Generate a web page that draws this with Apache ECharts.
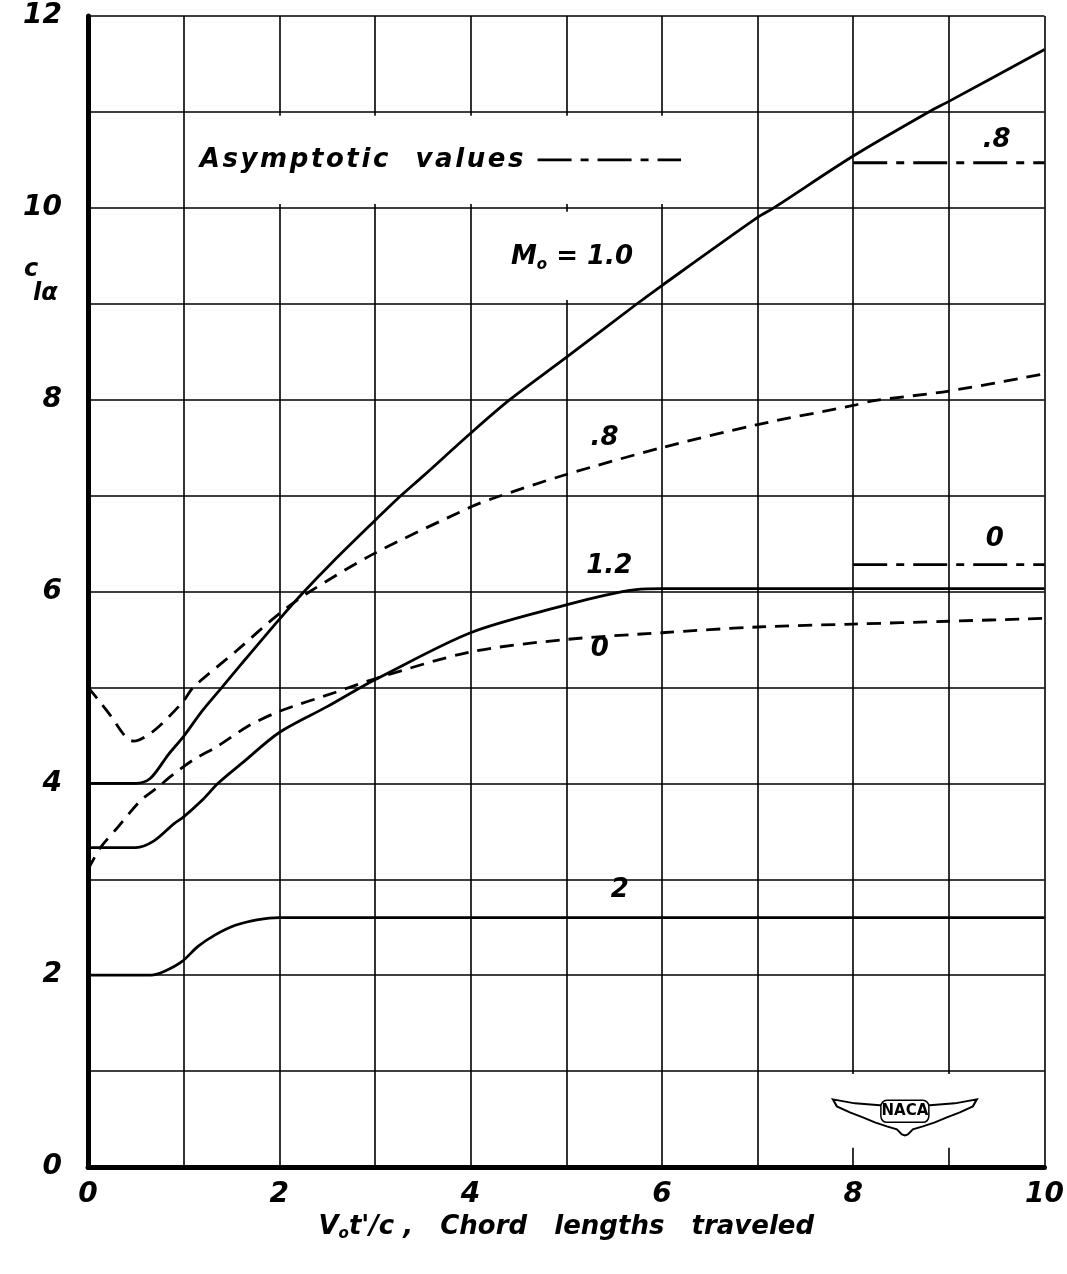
<!DOCTYPE html>
<html>
<head>
<meta charset="utf-8">
<script src="https://cdn.jsdelivr.net/npm/echarts@6/dist/echarts.min.js"></script>
<style>
  html, body { margin: 0; padding: 0; background: #fff; }
  #main { width: 1067px; height: 1274px; }
</style>
</head>
<body>
<div id="main"></div>
<script>
// values: c_l_alpha vs chord lengths traveled
var m10X = [0, 0.5, 0.65, 0.84, 1, 1.19, 1.4, 1.6, 2, 2.26, 2.56, 3, 3.25, 3.5, 4, 4.41, 5, 5.74, 6, 7, 7.17, 8, 8.79, 9, 10];
var m10Y = [4, 4, 4.05, 4.3, 4.49, 4.75, 5.0, 5.24, 5.71, 6.0, 6.31, 6.74, 6.98, 7.2, 7.65, 8.0, 8.44, 9.0, 9.19, 9.9, 10.0, 10.54, 11.0, 11.11, 11.65];

var m08X = [0, 0.1, 0.24, 0.35, 0.42, 0.48, 0.59, 0.75, 1, 1.1, 1.55, 2, 2.32, 3, 4, 4.23, 5, 6, 7, 8, 8.22, 9, 10];
var m08Y = [5.0, 4.88, 4.7, 4.54, 4.46, 4.44, 4.48, 4.6, 4.86, 5.0, 5.38, 5.77, 6.0, 6.4, 6.88, 6.97, 7.22, 7.5, 7.74, 7.94, 7.99, 8.09, 8.27];

var m12X = [0, 0.5, 0.69, 0.9, 1, 1.19, 1.36, 1.61, 2, 2.5, 2.85, 3, 4, 5, 5.4, 5.73, 6, 10];
var m12Y = [3.33, 3.33, 3.4, 3.58, 3.65, 3.82, 4.0, 4.21, 4.53, 4.8, 5.0, 5.08, 5.57, 5.86, 5.96, 6.02, 6.03, 6.03];

var m0X = [0, 0.13, 0.31, 0.55, 0.73, 0.9, 1.11, 1.36, 1.68, 2, 2.59, 3, 4, 5, 6, 7, 8, 9, 10];
var m0Y = [3.1, 3.33, 3.54, 3.82, 3.96, 4.1, 4.25, 4.39, 4.6, 4.75, 4.95, 5.09, 5.37, 5.5, 5.57, 5.63, 5.66, 5.69, 5.72];

var m2X = [0, 0.66, 0.8, 0.98, 1.15, 1.33, 1.54, 1.78, 2, 10];
var m2Y = [2, 2, 2.04, 2.14, 2.3, 2.42, 2.52, 2.58, 2.6, 2.6];

// asymptotic values (dash-dot), drawn from x = 8 to 10
var asymX = [8, 10];
var asym08 = [10.47, 10.47];
var asym0 = [6.28, 6.28];
// key sample next to "Asymptotic values"
var keyX = [4.7, 6.2];
var keyY = [10.5, 10.5];

// curve labels
var H = '\u200A';
var labelText = ['{t|' + 'Asymptotic'.split('').join(H) + '   ' + 'values'.split('').join(H) + '}',
    '{t|.8}', '{t|M}{s|o}{t| = 1.0}', '{t|.8}', '{t|0}', '{t|1.2}', '{t|0}', '{t|2}'];
var labelX = [2.86, 9.5, 5.06, 5.4, 9.48, 5.45, 5.35, 5.56];
var labelY = [10.5, 10.7, 9.48, 7.6, 6.54, 6.26, 5.4, 2.89];

var xTicks = [0, 2, 4, 6, 8, 10];
var yTicks = [0, 2, 4, 6, 8, 10, 12];

function pairs(xs, ys) {
    var out = [];
    for (var i = 0; i < xs.length; i++) out.push([xs[i], ys[i]]);
    return out;
}

var FONT = 'DejaVu Sans';
var txt = { fontFamily: FONT, fontStyle: 'italic', fontWeight: 'bold', fontSize: 26, color: '#000' };
var sub = { fontFamily: FONT, fontStyle: 'italic', fontWeight: 'bold', fontSize: 15, color: '#000', padding: [14, 0, 0, 0] };

var chart = echarts.init(document.getElementById('main'));

function curve(name, xs, ys, dashed) {
    return {
        name: name,
        type: 'line',
        data: pairs(xs, ys),
        smooth: 0.3,
        symbol: 'none',
        z: 5,
        lineStyle: { color: '#000', width: 2.8, type: dashed ? [14, 9] : 'solid' }
    };
}

function asym(xs, ys) {
    return {
        type: 'line',
        data: pairs(xs, ys),
        symbol: 'none',
        z: 5,
        lineStyle: { color: '#000', width: 2.8, type: [34, 9, 8, 9] }
    };
}

var labelData = [];
for (var i = 0; i < labelText.length; i++) {
    labelData.push({ value: [labelX[i], labelY[i]], name: labelText[i] });
}

var option = {
    backgroundColor: '#fff',
    animation: false,
    grid: { left: 88, right: 22, top: 16, bottom: 107 },
    xAxis: {
        type: 'value',
        min: 0, max: 10, interval: 1,
        name: "{t|V}{s|o}{t|t'/c ,   Chord   lengths   traveled}",
        nameLocation: 'middle',
        nameGap: 46,
        nameTextStyle: { rich: { t: txt, s: sub } },
        axisLine: { show: true, onZero: false, lineStyle: { color: '#000', width: 5 } },
        axisTick: { show: false },
        axisLabel: {
            margin: 14,
            fontFamily: FONT, fontStyle: 'italic', fontWeight: 'bold', fontSize: 28, color: '#000',
            formatter: function (v) { return xTicks.indexOf(v) >= 0 ? String(v) : ''; }
        },
        splitLine: { show: true, lineStyle: { color: '#000', width: 1.6 } }
    },
    yAxis: {
        type: 'value',
        min: 0, max: 12, interval: 1,
        axisLine: { show: true, onZero: false, lineStyle: { color: '#000', width: 5 } },
        axisTick: { show: false },
        axisLabel: {
            margin: 26,
            fontFamily: FONT, fontStyle: 'italic', fontWeight: 'bold', fontSize: 28, color: '#000',
            formatter: function (v) { return yTicks.indexOf(v) >= 0 ? String(v) : ''; }
        },
        splitLine: { show: true, lineStyle: { color: '#000', width: 1.6 } }
    },
    series: [
        {
            // white patches where the lettering breaks the grid
            type: 'line',
            data: [],
            z: 2,
            markArea: {
                silent: true,
                itemStyle: { color: '#fff', opacity: 1 },
                data: [
                    [{ coord: [1.04, 10.04] }, { coord: [6.96, 10.96] }],
                    [{ coord: [4.3, 9.04] }, { coord: [5.62, 9.96] }],
                    [{ coord: [7.94, 0.2] }, { coord: [9.06, 0.97] }]
                ]
            }
        },
        curve('M=1.0', m10X, m10Y, false),
        curve('M=0.8', m08X, m08Y, true),
        curve('M=1.2', m12X, m12Y, false),
        curve('M=0', m0X, m0Y, true),
        curve('M=2', m2X, m2Y, false),
        asym(asymX, asym08),
        asym(asymX, asym0),
        asym(keyX, keyY),
        {
            type: 'scatter',
            data: labelData,
            symbolSize: 1,
            itemStyle: { color: 'rgba(0,0,0,0)' },
            z: 6,
            label: {
                show: true,
                position: 'inside',
                color: '#000',
                opacity: 1,
                formatter: function (p) { return p.name; },
                rich: { t: txt, s: sub }
            }
        }
    ]
};
chart.setOption(option);

// y-axis symbol c_l_alpha and the NACA wings
var yName = chart.convertToPixel({ gridIndex: 0 }, [0, 9.25]);
var logo = chart.convertToPixel({ gridIndex: 0 }, [8.54, 0.58]);
var wing = [
    [-72, -12], [-50, -8], [-25, -6], [0, -6], [25, -6], [50, -8], [72, -12],
    [68, -5], [55, 1], [42, 6], [30, 11], [18, 15], [8, 18], [3, 23], [0, 24],
    [-3, 23], [-8, 18], [-18, 15], [-30, 11], [-42, 6], [-55, 1], [-68, -5]
];
chart.setOption({
    graphic: [
        {
            type: 'text', x: yName[0] - 64, y: yName[1] - 22,
            style: { text: 'c', font: 'italic bold 24px ' + FONT, fill: '#000' }
        },
        {
            type: 'text', x: yName[0] - 55, y: yName[1] + 2,
            style: { text: 'lα', font: 'italic bold 24px ' + FONT, fill: '#000' }
        },
        {
            type: 'polygon', x: logo[0], y: logo[1], z: 10,
            shape: { points: wing },
            style: { fill: '#fff', stroke: '#000', lineWidth: 2 }
        },
        {
            type: 'rect', x: logo[0] - 24, y: logo[1] - 11, z: 11,
            shape: { width: 48, height: 22, r: 6 },
            style: { fill: '#fff', stroke: '#000', lineWidth: 1.5 }
        },
        {
            type: 'text', x: logo[0], y: logo[1], z: 12,
            style: { text: 'NACA', font: 'bold 15px ' + FONT, fill: '#000', align: 'center', verticalAlign: 'middle' }
        }
    ]
});
</script>
</body>
</html>
